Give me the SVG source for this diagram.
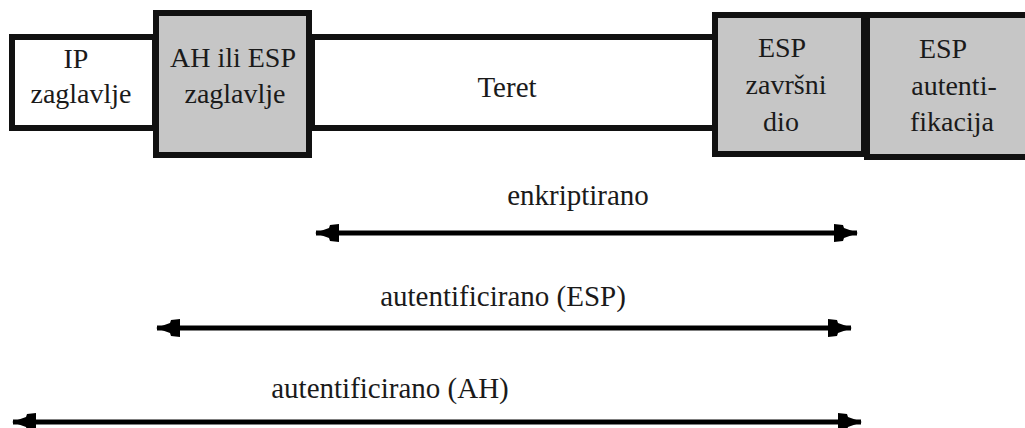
<svg xmlns="http://www.w3.org/2000/svg" width="1025" height="428" viewBox="0 0 1025 428">
<style>
.box{stroke:#111;stroke-width:6;}
.w{fill:#fff;}
.g{fill:#c6c6c6;}
text{font-family:"Liberation Serif","Times New Roman",serif;font-size:28px;fill:#1a1a1a;text-anchor:middle;}
.lbl{font-size:29px;}
.conn{stroke:#000;stroke-width:5;fill:none;marker-start:url(#ah);marker-end:url(#ah);}
</style>
<defs>
<marker id="ah" markerUnits="userSpaceOnUse" viewBox="0 0 24 18" refX="23" refY="9" markerWidth="24" markerHeight="18" orient="auto-start-reverse">
<path d="M0,0 L9,1 L10,4 L24,9 L10,14 L9,17 L0,18 Z" fill="#000"/>
</marker>
</defs>
<rect width="1025" height="428" fill="#fff"/>
<g id="teret">
<rect class="box w" x="312" y="37" width="403" height="91"/>
<text x="507" y="97" style="font-size:29px">Teret</text>
</g>
<g id="ip">
<rect class="box w" x="12" y="37" width="143" height="91"/>
<text x="76" y="68">IP</text>
<text x="81" y="103">zaglavlje</text>
</g>
<g id="ah-esp">
<rect class="box g" x="156" y="13" width="153" height="142"/>
<text x="233" y="67">AH ili ESP</text>
<text x="235" y="103">zaglavlje</text>
</g>
<g id="esp-trailer">
<rect class="box g" x="715" y="15" width="149" height="139"/>
<text x="782" y="57">ESP</text>
<text x="786" y="94">završni</text>
<text x="781" y="131">dio</text>
</g>
<g id="esp-auth">
<rect class="box g" x="867" y="15" width="165" height="142"/>
<text x="943" y="58">ESP</text>
<text x="954" y="95">autenti-</text>
<text x="952" y="131">fikacija</text>
</g>
<g id="connectors">
<line class="conn" x1="316" y1="233" x2="857" y2="233"/>
<line class="conn" x1="157" y1="328" x2="851" y2="328"/>
<line class="conn" x1="13" y1="422" x2="861" y2="422"/>
</g>
<g id="labels">
<text class="lbl" x="578" y="205">enkriptirano</text>
<text class="lbl" x="503" y="306">autentificirano (ESP)</text>
<text class="lbl" x="390" y="398">autentificirano (AH)</text>
</g>
</svg>
